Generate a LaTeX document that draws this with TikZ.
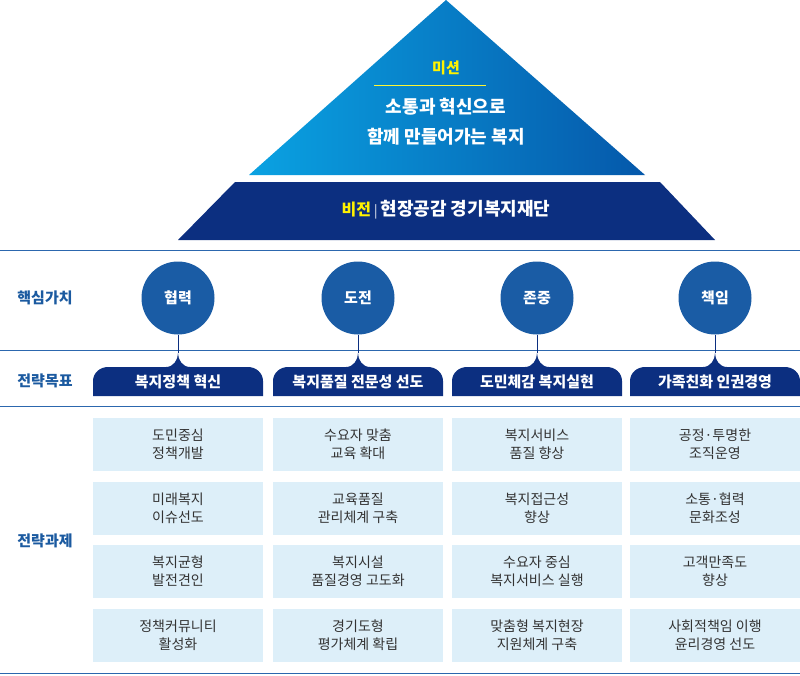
\documentclass[tikz,border=0pt]{standalone}
\usepackage{fontspec}
\setmainfont{Noto Sans CJK KR}
\definecolor{navy}{HTML}{0C2F80}
\definecolor{circ}{HTML}{1A5CA5}
\definecolor{lab}{HTML}{1B5AA0}
\definecolor{line}{HTML}{2C67AE}
\definecolor{cell}{HTML}{DDEFF9}
\definecolor{tl}{HTML}{0AA2E2}
\definecolor{tr}{HTML}{0558AA}
\definecolor{yel}{HTML}{FFF200}
\begin{document}
\begin{tikzpicture}[x=1pt,y=-1pt,
  rowlab/.style={text=lab,font=\fontsize{15}{17}\selectfont\bfseries},
  valc/.style={circle,fill=circ,minimum size=73pt,inner sep=0,text=white,font=\fontsize{15}{17}\selectfont\bfseries},
  goal/.style={text=white,font=\fontsize{15}{17}\selectfont\bfseries},
  task/.style={fill=cell,minimum width=170pt,minimum height=53pt,inner sep=0,align=center,text=black!80,font=\fontsize{14}{18}\selectfont},
  sep/.style={line,line width=0.9pt}]
\useasboundingbox (0,0) rectangle (800,675);
\shade[left color=tl,right color=tr] (446,0) -- (645,175) -- (249,175) -- cycle;
\fill[navy] (235,182) -- (660,182) -- (715,240) -- (178,240) -- cycle;
\node[text=yel,font=\fontsize{15}{17}\selectfont\bfseries] (mis) at (446,68) {미션};
\draw[yel!80!white,line width=0.5pt] (374,85) -- (486,85);
\node[text=white,align=center,font=\fontsize{18}{30}\selectfont\bfseries] (mtext) at (446,122) {소통과 혁신으로\\함께 만들어가는 복지};
\node[text=white,font=\fontsize{18}{20}\selectfont\bfseries] (vis) at (446,210) {\textcolor{yel}{\fontsize{16}{18}\selectfont 비전}\,{\color{white!70}\mdseries\fontsize{13}{16}\selectfont|}\,현장공감 경기복지재단};
\draw[sep] (0,250) -- (800,250);
\draw[sep] (0,350) -- (800,350);
\draw[sep] (0,406) -- (800,406);
\draw[sep] (0,673) -- (800,673);
\node[rowlab] (r1) at (45,298) {핵심가치};
\node[rowlab] (r2) at (45,381) {전략목표};
\node[rowlab] (r3) at (45,541) {전략과제};
\foreach \cx/\v/\g [count=\i] in {178/협력/복지정책 혁신,358/도전/복지품질 전문성 선도,537/존중/도민체감 복지실현,715/책임/가족친화 인권경영}{
  \node[valc] (v\i) at (\cx,298) {\v};
  \fill[navy] (\cx-85,396) -- (\cx-85,381) to[out=90,in=180] (\cx-70,367) -- (\cx-12,367) to[out=0,in=-90] (\cx,353) to[out=-90,in=180] (\cx+12,367) -- (\cx+70,367) to[out=0,in=90] (\cx+85,381) -- (\cx+85,396) -- cycle;
  \coordinate (b\i) at (\cx,353);
  \draw[navy,line width=1pt] (v\i.south) -- (b\i);
  \node[goal] (g\i) at (\cx,382) {\g};
}
\foreach \cx/\a/\b/\c/\d [count=\i] in {
 178/도민중심\\정책개발/미래복지\\이슈선도/복지균형\\발전견인/정책커뮤니티\\활성화,
 358/수요자 맞춤\\교육 확대/교육품질\\관리체계 구축/복지시설\\품질경영 고도화/경기도형\\평가체계 확립,
 537/복지서비스\\품질 향상/복지접근성\\향상/수요자 중심\\복지서비스 실행/맞춤형 복지현장\\지원체계 구축,
 715/공정·투명한\\조직운영/소통·협력\\문화조성/고객만족도\\향상/사회적책임 이행\\윤리경영 선도}{
  \node[task] (t\i a) at (\cx,444.5) {\a};
  \node[task] (t\i b) at (\cx,508.5) {\b};
  \node[task] (t\i c) at (\cx,571.5) {\c};
  \node[task] (t\i d) at (\cx,635.5) {\d};
}
\end{tikzpicture}
\end{document}
